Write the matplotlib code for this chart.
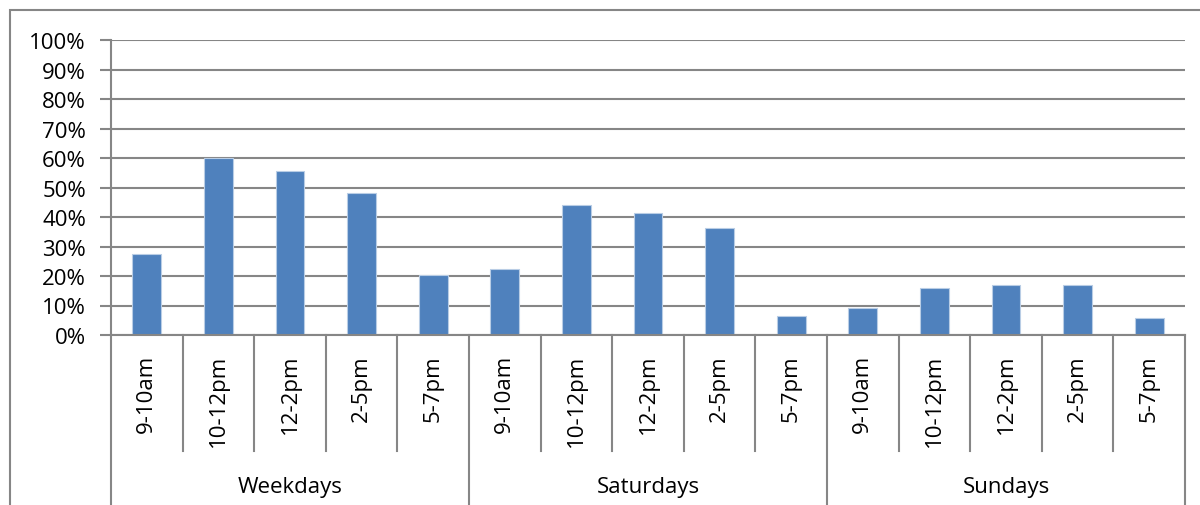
import matplotlib
matplotlib.use("Agg")
import matplotlib.pyplot as plt
from matplotlib.patches import Rectangle
from matplotlib.transforms import blended_transform_factory

groups = ["Weekdays", "Saturdays", "Sundays"]
slots = ["9-10am", "10-12pm", "12-2pm", "2-5pm", "5-7pm"]
weekdays = [27.3, 60.0, 55.6, 48.1, 20.2]
saturdays = [22.4, 44.0, 41.2, 36.3, 6.3]
sundays = [9.0, 16.0, 17.1, 17.1, 5.9]
yticks = [0, 10, 20, 30, 40, 50, 60, 70, 80, 90, 100]

plt.rcParams['font.family'] = ['Open Sans', 'DejaVu Sans']
FS = 16
GRID = '#868686'
BAR = '#4F81BD'

values = weekdays + saturdays + sundays
labels = slots * len(groups)
x = list(range(len(values)))

fig = plt.figure(figsize=(12, 5.06), dpi=100)
ax = fig.add_axes([111/1200, 1-336/506, (1185-111)/1200, (336-41)/506])

ax.bar(x, [v/100 for v in values], width=0.4, color=BAR, edgecolor='#B9CDE5',
       linewidth=0.8, zorder=3)

ax.set_xlim(-0.5, len(values)-0.5)
ax.set_ylim(0, 1)
ax.set_yticks([t/100 for t in yticks])
ax.set_yticklabels([f"{t}%" for t in yticks], fontsize=FS)
ax.tick_params(axis='y', length=8, width=1.5, color=GRID, pad=10)
ax.set_xticks([])
ax.grid(axis='y', color=GRID, linewidth=1.5, zorder=0)
for s in ['top', 'right']:
    ax.spines[s].set_visible(False)
ax.spines['left'].set_color(GRID)
ax.spines['left'].set_linewidth(1.5)
ax.spines['bottom'].set_color(GRID)
ax.spines['bottom'].set_linewidth(1.5)
ax.spines['bottom'].set_zorder(4)

tr = blended_transform_factory(ax.transData, ax.transAxes)
n = len(slots)
# separators
for k in range(len(values)+1):
    xb = k - 0.5
    if k % n == 0:
        ax.plot([xb, xb], [0, -0.62], transform=tr, color=GRID, lw=1.5, clip_on=False)
    else:
        ax.plot([xb, xb], [0, -0.393], transform=tr, color=GRID, lw=1.5, clip_on=False)

for xi, lab in zip(x, labels):
    ax.text(xi, -0.064, lab, transform=tr, rotation=90, ha='center', va='top', fontsize=FS)

for gi, g in enumerate(groups):
    xc = gi*n + (n-1)/2
    ax.text(xc, -0.512, g, transform=tr, ha='center', va='center', fontsize=FS)

# chart area border
fig.patches.append(Rectangle((10/1200, -0.2), 1.2, 1-11/506+0.2, transform=fig.transFigure,
                             fill=False, edgecolor=GRID, linewidth=1.5))

fig.savefig("out.png", dpi=100)
